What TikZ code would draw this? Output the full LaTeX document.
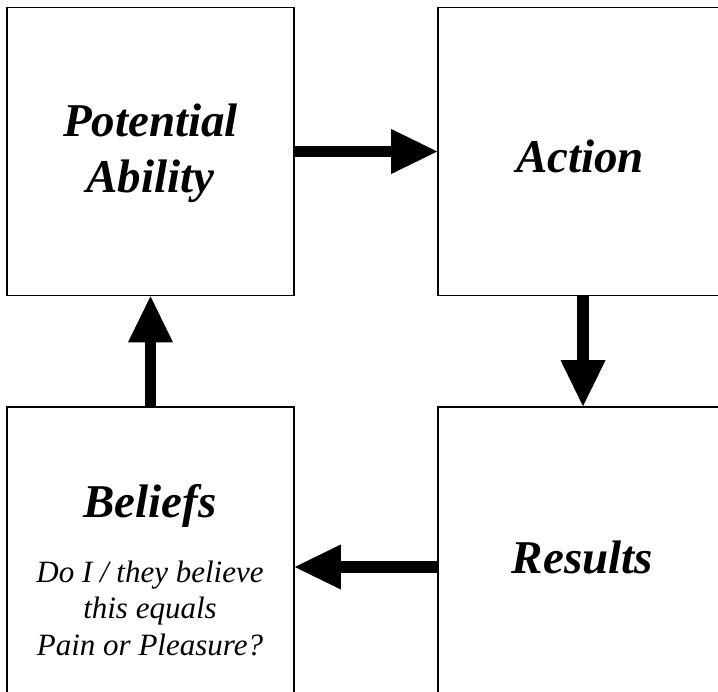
\documentclass[tikz,border=0pt]{standalone}
\usepackage{fontspec}
\setmainfont{Liberation Serif}
\usetikzlibrary{arrows.meta}

\tikzset{
  box/.style={draw, line width=1.6pt, minimum width=287pt, minimum height=288pt, inner sep=0pt},
  widebox/.style={box, minimum width=290pt},
  title/.style={font=\fontsize{47}{56}\selectfont\bfseries\itshape, align=center, inner sep=0pt},
  note/.style={font=\fontsize{31}{36.5}\selectfont\itshape, align=center, inner sep=0pt},
  fat/.style={line width=11.5pt, -{Triangle[length=46pt,width=45pt,line width=0pt]}}
}

\begin{document}
\begin{tikzpicture}[x=1pt,y=-1pt]
  \useasboundingbox (0,0) rectangle (718,692);
  \clip (0,0) rectangle (718,692);

  % the four boxes
  \node[box] (pot) at (150.5,151.5) {};
  \node[widebox] (act) at (583,151.5) {};
  \node[box] (bel) at (150.5,551) {};
  \node[widebox] (res) at (583,551) {};

  % texts
  \node[title] (potT) at (150.5,153) {Potential\\Ability};
  \node[title, anchor=base] (actT) at (580,173) {Action};
  \node[title, anchor=base] (belT) at (150,518) {Beliefs};
  \node[note] (belN) at (150,608) {Do I / they believe\\this equals\\Pain or Pleasure?};
  \node[title, anchor=base] (resT) at (582.5,573) {Results};

  % the cycle
  \draw[fat] (pot.east) -- (act.west);
  \draw[fat] (act.south) -- (res.north);
  \draw[fat] ([yshift=-16pt]res.west) -- ([yshift=-16pt]bel.east);
  \draw[fat] (bel.north) -- (pot.south);
\end{tikzpicture}
\end{document}
